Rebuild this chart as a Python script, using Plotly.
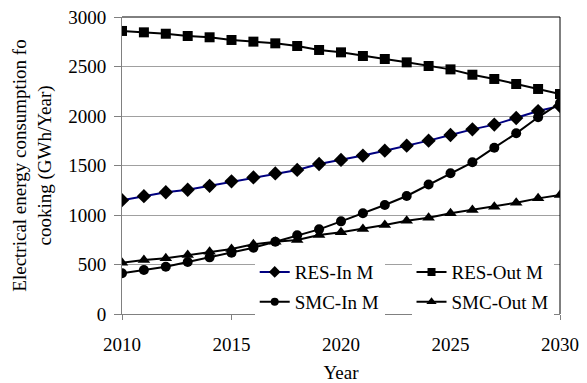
import plotly.graph_objects as go

years = list(range(2010, 2031))
res_in = [1150, 1190, 1230, 1255, 1295, 1340, 1380, 1420, 1455, 1515, 1556, 1600, 1650, 1700, 1751, 1808, 1865, 1913, 1980, 2050, 2101]
res_out = [2859, 2845, 2831, 2808, 2795, 2768, 2751, 2734, 2707, 2667, 2643, 2606, 2576, 2542, 2505, 2471, 2417, 2374, 2323, 2273, 2222]
smc_in = [411, 444, 478, 525, 572, 619, 670, 730, 795, 855, 936, 1017, 1101, 1192, 1308, 1421, 1532, 1680, 1825, 1987, 2131]
smc_out = [518, 545, 562, 596, 630, 657, 704, 730, 747, 798, 825, 859, 899, 942, 973, 1017, 1051, 1084, 1124, 1168, 1202]

FONT = "Liberation Serif"
FS = 19

fig = go.Figure()
series = [
    ("RES-In M", res_in, "diamond", "#000080", 11, 9, "legend"),
    ("SMC-In M", smc_in, "circle", "black", 10, 8, "legend"),
    ("RES-Out M", res_out, "square", "black", 10, 8, "legend2"),
    ("SMC-Out M", smc_out, "triangle-up", "black", 11, 9, "legend2"),
]
for name, vals, sym, lc, ms, lms, lg in series:
    fig.add_trace(go.Scatter(
        x=years, y=vals, name=name, mode="lines+markers",
        line=dict(color=lc, width=2),
        marker=dict(symbol=sym, color="black", size=ms),
        showlegend=False, legendgroup=name,
    ))
    # legend-only entry with the smaller legend symbol
    fig.add_trace(go.Scatter(
        x=[None], y=[None], name=name, mode="lines+markers",
        line=dict(color=lc, width=2),
        marker=dict(symbol=sym, color="black", size=lms),
        legend=lg, legendgroup=name, hoverinfo="skip",
    ))

legend_common = dict(
    bgcolor="white", borderwidth=0,
    font=dict(family=FONT, size=FS, color="black"),
    traceorder="grouped", tracegroupgap=2,
    yanchor="top", xanchor="left",
)
fig.update_layout(
    width=587, height=383,
    margin=dict(l=122, r=27, t=17, b=69),
    paper_bgcolor="white", plot_bgcolor="white",
    font=dict(family=FONT, size=FS, color="black"),
    showlegend=True,
    legend=dict(x=0.303, y=0.205, **legend_common),
    legend2=dict(x=0.661, y=0.205, **legend_common),
    xaxis=dict(
        range=[2010, 2030], tickvals=[2010, 2015, 2020, 2025, 2030],
        showgrid=False, showline=True, linecolor="#808080", linewidth=1,
        ticks="outside", ticklen=5, tickcolor="#808080",
        tickfont=dict(family=FONT, size=FS), ticklabelstandoff=8,
        title=dict(text="Year", font=dict(family=FONT, size=FS), standoff=13),
        zeroline=False, automargin=False,
    ),
    yaxis=dict(
        range=[0, 3000], tickvals=[0, 500, 1000, 1500, 2000, 2500, 3000],
        showgrid=True, gridcolor="#a0a0a0", gridwidth=1,
        showline=True, linecolor="#808080", linewidth=1,
        ticks="outside", ticklen=7, tickcolor="#808080",
        tickfont=dict(family=FONT, size=FS), ticklabelstandoff=4,
        title=dict(text="Electrical energy consumption fo<br>cooking (GWh/Year)",
                   font=dict(family=FONT, size=FS), standoff=11),
        zeroline=False, automargin=False,
    ),
)
fig.add_shape(type="line", xref="x domain", yref="y domain", x0=0, x1=1, y0=1, y1=1,
              line=dict(color="black", width=1))
fig.add_shape(type="line", xref="x domain", yref="y domain", x0=1, x1=1, y0=0, y1=1,
              line=dict(color="black", width=1))

fig.write_html("out.html", config={"displayModeBar": False},
               post_script="document.body.style.margin='0';document.body.style.padding='0';")
